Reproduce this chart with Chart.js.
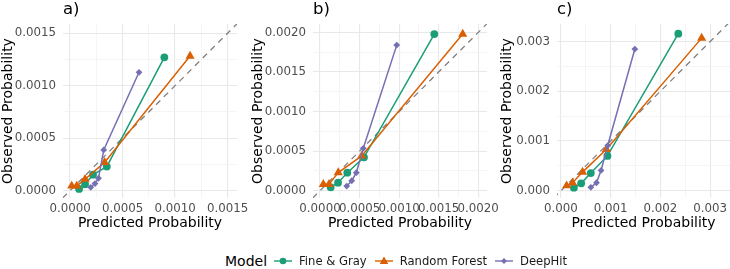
<!DOCTYPE html>
<html>
<head>
<meta charset="utf-8">
<script src="https://cdn.jsdelivr.net/npm/chart.js@4"></script>
<style>
  html, body { margin: 0; padding: 0; background: #fff; }
  body { width: 730px; height: 269px; overflow: hidden; position: relative; font-family: 'DejaVu Sans', sans-serif; }
  canvas { position: absolute; top: 0; }
  #panelA { left: 0; }
  #panelB { left: 250px; }
  #panelC { left: 499px; }
  #legend { position: absolute; left: 225px; top: 252px; height: 18px; display: flex; align-items: center; white-space: nowrap; }
  #legend .title { font-size: 14px; color: #000; margin-right: 6px; }
  #legend .item { display: flex; align-items: center; margin-right: 7px; font-size: 11.6px; color: #1a1a1a; }
  #legend svg { margin-right: 6px; }
</style>
</head>
<body>
<canvas id="panelA" width="257" height="240"></canvas>
<canvas id="panelB" width="257" height="240"></canvas>
<canvas id="panelC" width="251" height="240"></canvas>
<div id="legend"></div>

<script>
const MODELS = ["Fine & Gray", "Random Forest", "DeepHit"];
const COLORS = ["#1B9E77", "#D95F02", "#7570B3"];
const POINT_STYLES = ["circle", "triangle", "rectRot"];

// panel a
const aFineGrayX = [0.000086, 0.000143, 0.000219, 0.000350, 0.000898];
const aFineGrayY = [0.000016, 0.000061, 0.000152, 0.000229, 0.001270];
const aForestX   = [0.000016, 0.000064, 0.000143, 0.000329, 0.001143];
const aForestY   = [0.000045, 0.000045, 0.000109, 0.000269, 0.001283];
const aDeepHitX  = [0.000197, 0.000238, 0.000271, 0.000321, 0.000657];
const aDeepHitY  = [0.000032, 0.000067, 0.000118, 0.000388, 0.001128];

// panel b
const bFineGrayX = [0.000135, 0.000228, 0.000345, 0.000556, 0.001445];
const bFineGrayY = [0.000043, 0.000101, 0.000228, 0.000422, 0.001980];
const bForestX   = [0.000042, 0.000114, 0.000231, 0.000527, 0.001804];
const bForestY   = [0.000080, 0.000080, 0.000228, 0.000439, 0.001980];
const bDeepHitX  = [0.000338, 0.000401, 0.000459, 0.000547, 0.000970];
const bDeepHitY  = [0.000059, 0.000126, 0.000228, 0.000536, 0.001840];

// panel c
const cFineGrayX = [0.000260, 0.000406, 0.000600, 0.000934, 0.002360];
const cFineGrayY = [0.000060, 0.000148, 0.000354, 0.000700, 0.003160];
const cForestX   = [0.000114, 0.000234, 0.000434, 0.000914, 0.002830];
const cForestY   = [0.000100, 0.000160, 0.000374, 0.000834, 0.003070];
const cDeepHitX  = [0.000600, 0.000714, 0.000806, 0.000940, 0.001486];
const cDeepHitY  = [0.000068, 0.000160, 0.000408, 0.000908, 0.002850];

// axis limits and tick spacing per panel
const aXRange = [-0.000067, 0.00159],  aYRange = [-0.00007, 0.001588];
const bXRange = [-0.0000885, 0.002111], bYRange = [-0.0000923, 0.002107];
const cXRange = [-0.00008, 0.0034],    cYRange = [-0.000147, 0.003354];
const aTickStep = 0.0005, bTickStep = 0.0005, cTickStep = 0.001;
const aDecimals = 4, bDecimals = 4, cDecimals = 3;

const FONT = "'DejaVu Sans', sans-serif";
const pairs = (xs, ys) => xs.map((x, i) => ({ x, y: ys[i] }));
const isMajor = (v, step) => Math.abs(v / step - Math.round(v / step)) < 1e-6;

function makeAxis(range, step, decimals, isX, axisSize) {
  return {
    type: "linear",
    min: range[0],
    max: range[1],
    border: { display: false },
    grid: {
      drawTicks: false,
      color: c => isMajor(c.tick.value, step) ? "#E8E8E8" : "#F2F2F2",
      lineWidth: c => isMajor(c.tick.value, step) ? 1.1 : 0.8
    },
    ticks: {
      stepSize: step / 2,
      includeBounds: false,
      autoSkip: false,
      maxRotation: 0,
      minRotation: 0,
      padding: isX ? 4 : 7,
      color: "#4D4D4D",
      font: { family: FONT, size: 11.8 },
      callback: v => isMajor(v, step) ? v.toFixed(decimals) : ""
    },
    title: {
      display: true,
      text: isX ? "Predicted Probability" : "Observed Probability",
      color: "#000",
      font: { family: FONT, size: 14 },
      padding: isX ? { top: 0, bottom: 8.6 } : { top: 0, bottom: 0 }
    },
    afterFit: scale => {
      if (isX) scale.height = axisSize; else scale.width = axisSize;
    }
  };
}

function makePanel(id, tag, xsList, ysList, xRange, yRange, step, decimals, yAxisWidth) {
  const lo = Math.min(xRange[0], yRange[0]);
  const hi = Math.max(xRange[1], yRange[1]);
  const datasets = MODELS.map((name, i) => ({
    label: name,
    data: pairs(xsList[i], ysList[i]),
    borderColor: COLORS[i],
    backgroundColor: COLORS[i],
    borderWidth: 1.5,
    pointStyle: POINT_STYLES[i],
    pointRadius: i === 1 ? 5.3 : (i === 2 ? 3.4 : 3.9),
    pointBorderWidth: 0,
    showLine: true,
    order: 3 - i
  }));
  // y = x reference line
  datasets.push({
    label: "diag",
    data: [{ x: lo, y: lo }, { x: hi, y: hi }],
    borderColor: "#808080",
    borderWidth: 1.3,
    borderDash: [6, 5],
    pointRadius: 0,
    showLine: true,
    order: 10
  });

  return new Chart(document.getElementById(id), {
    type: "scatter",
    data: { datasets },
    options: {
      responsive: false,
      animation: false,
      layout: { padding: { top: 0, right: 20, bottom: 0, left: 0 } },
      plugins: {
        legend: { display: false },
        tooltip: { enabled: false },
        title: {
          display: true,
          text: tag,
          align: "start",
          fullSize: false,
          color: "#000",
          font: { family: FONT, size: 16.5, weight: "normal" },
          padding: { top: 0, bottom: 4.2 }
        }
      },
      scales: {
        x: makeAxis(xRange, step, decimals, true, 42),
        y: makeAxis(yRange, step, decimals, false, yAxisWidth)
      }
    }
  });
}

makePanel("panelA", "a)", [aFineGrayX, aForestX, aDeepHitX], [aFineGrayY, aForestY, aDeepHitY],
  aXRange, aYRange, aTickStep, aDecimals, 63);
makePanel("panelB", "b)", [bFineGrayX, bForestX, bDeepHitX], [bFineGrayY, bForestY, bDeepHitY],
  bXRange, bYRange, bTickStep, bDecimals, 63);
makePanel("panelC", "c)", [cFineGrayX, cForestX, cDeepHitX], [cFineGrayY, cForestY, cDeepHitY],
  cXRange, cYRange, cTickStep, cDecimals, 58);

// legend keys: short line with the model's marker
const markerSvg = (style, color) => {
  if (style === "circle") return `<circle cx="10" cy="6" r="3.3" fill="${color}"/>`;
  if (style === "triangle") return `<polygon points="10,1.5 14.3,9 5.7,9" fill="${color}"/>`;
  return `<polygon points="10,3 13,6 10,9 7,6" fill="${color}"/>`;
};

const legend = document.getElementById("legend");
legend.innerHTML = `<span class="title">Model</span>` + MODELS.map((name, i) => `
  <span class="item">
    <svg width="20" height="12"><line x1="1" y1="6" x2="19" y2="6" stroke="${COLORS[i]}" stroke-width="1.4"/>${markerSvg(POINT_STYLES[i], COLORS[i])}</svg>
    ${name}
  </span>`).join("");
</script>
</body>
</html>
